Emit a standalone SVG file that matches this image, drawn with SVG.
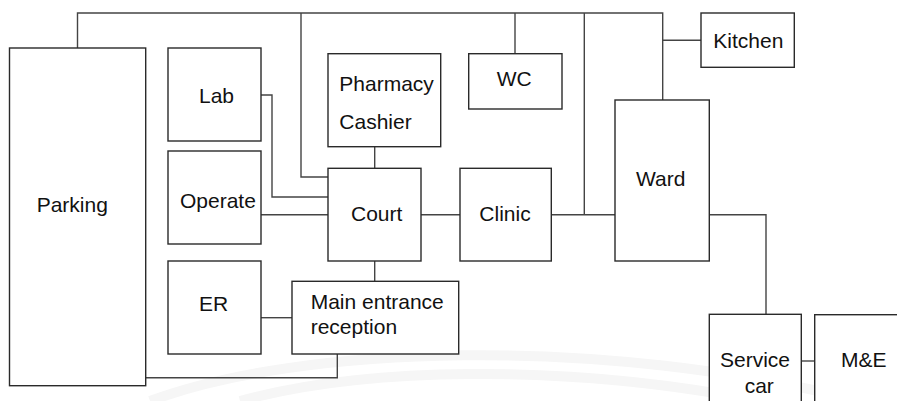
<svg xmlns="http://www.w3.org/2000/svg" width="897" height="401" viewBox="0 0 897 401">
<style>
.box{fill:#fff;stroke:#2a2a2a;stroke-width:1.4}
.ln{fill:none;stroke:#444;stroke-width:1.4}
text{font-family:"Liberation Sans",Arial,sans-serif;font-size:21px;fill:#111}
.wm{fill:none;stroke:#f6f6f6;stroke-width:10}
</style>
<rect width="897" height="401" fill="#fff"/>
<g id="watermark">
<path class="wm" d="M150,401 C300,345 600,335 860,401"/>
<path class="wm" d="M240,401 C360,368 560,362 760,401" stroke-width="6"/>
</g>
<g id="connectors">
<path class="ln" d="M77.5,48 V13 H662.7 V100"/>
<path class="ln" d="M301,13 V177 H328"/>
<path class="ln" d="M515,13 V53.7"/>
<path class="ln" d="M584.3,13 V214.7"/>
<path class="ln" d="M662.7,40.3 H701"/>
<path class="ln" d="M261,95 H272 V197 H328"/>
<path class="ln" d="M261,214.7 H328"/>
<path class="ln" d="M374.7,146.7 V168.3"/>
<path class="ln" d="M421,214.7 H460"/>
<path class="ln" d="M551.3,214.7 H615"/>
<path class="ln" d="M709.3,214.7 H766 V314.3"/>
<path class="ln" d="M801.3,361 H814.7"/>
<path class="ln" d="M374.7,261 V281.3"/>
<path class="ln" d="M261,317.7 H292"/>
<path class="ln" d="M145.7,377.7 H337.3 V354"/>
</g>
<g id="parking"><rect class="box" x="9.5" y="48" width="136.2" height="337.7"/><text x="36.7" y="211.7">Parking</text></g>
<g id="lab"><rect class="box" x="168" y="48" width="93" height="93"/><text x="199" y="103.3">Lab</text></g>
<g id="operate"><rect class="box" x="168" y="151" width="93" height="93"/><text x="180" y="208.3">Operate</text></g>
<g id="er"><rect class="box" x="168" y="261" width="93" height="93"/><text x="199" y="311">ER</text></g>
<g id="pharmacy"><rect class="box" x="328" y="53.7" width="112.7" height="93"/><text x="339.3" y="90.7">Pharmacy</text><text x="339.3" y="129">Cashier</text></g>
<g id="wc"><rect class="box" x="468.7" y="53.7" width="93.3" height="55.3"/><text x="496.7" y="86">WC</text></g>
<g id="kitchen"><rect class="box" x="701" y="13" width="93.3" height="54.3"/><text x="713.3" y="48.3">Kitchen</text></g>
<g id="court"><rect class="box" x="328" y="168.3" width="93" height="92.7"/><text x="351" y="220.7">Court</text></g>
<g id="clinic"><rect class="box" x="460" y="168.3" width="91.3" height="92.7"/><text x="479.3" y="220.7">Clinic</text></g>
<g id="ward"><rect class="box" x="615" y="100" width="94.3" height="161"/><text x="636" y="185.7">Ward</text></g>
<g id="main"><rect class="box" x="292" y="281.3" width="166.7" height="72.7"/><text x="310.7" y="309">Main entrance</text><text x="310.7" y="334.3">reception</text></g>
<g id="service"><rect class="box" x="709.3" y="314.3" width="92" height="100"/><text x="720" y="367.3">Service</text><text x="744.7" y="393.3">car</text></g>
<g id="me"><rect class="box" x="814.7" y="314.7" width="100" height="100"/><text x="841" y="367.3">M&amp;E</text></g>
</svg>
